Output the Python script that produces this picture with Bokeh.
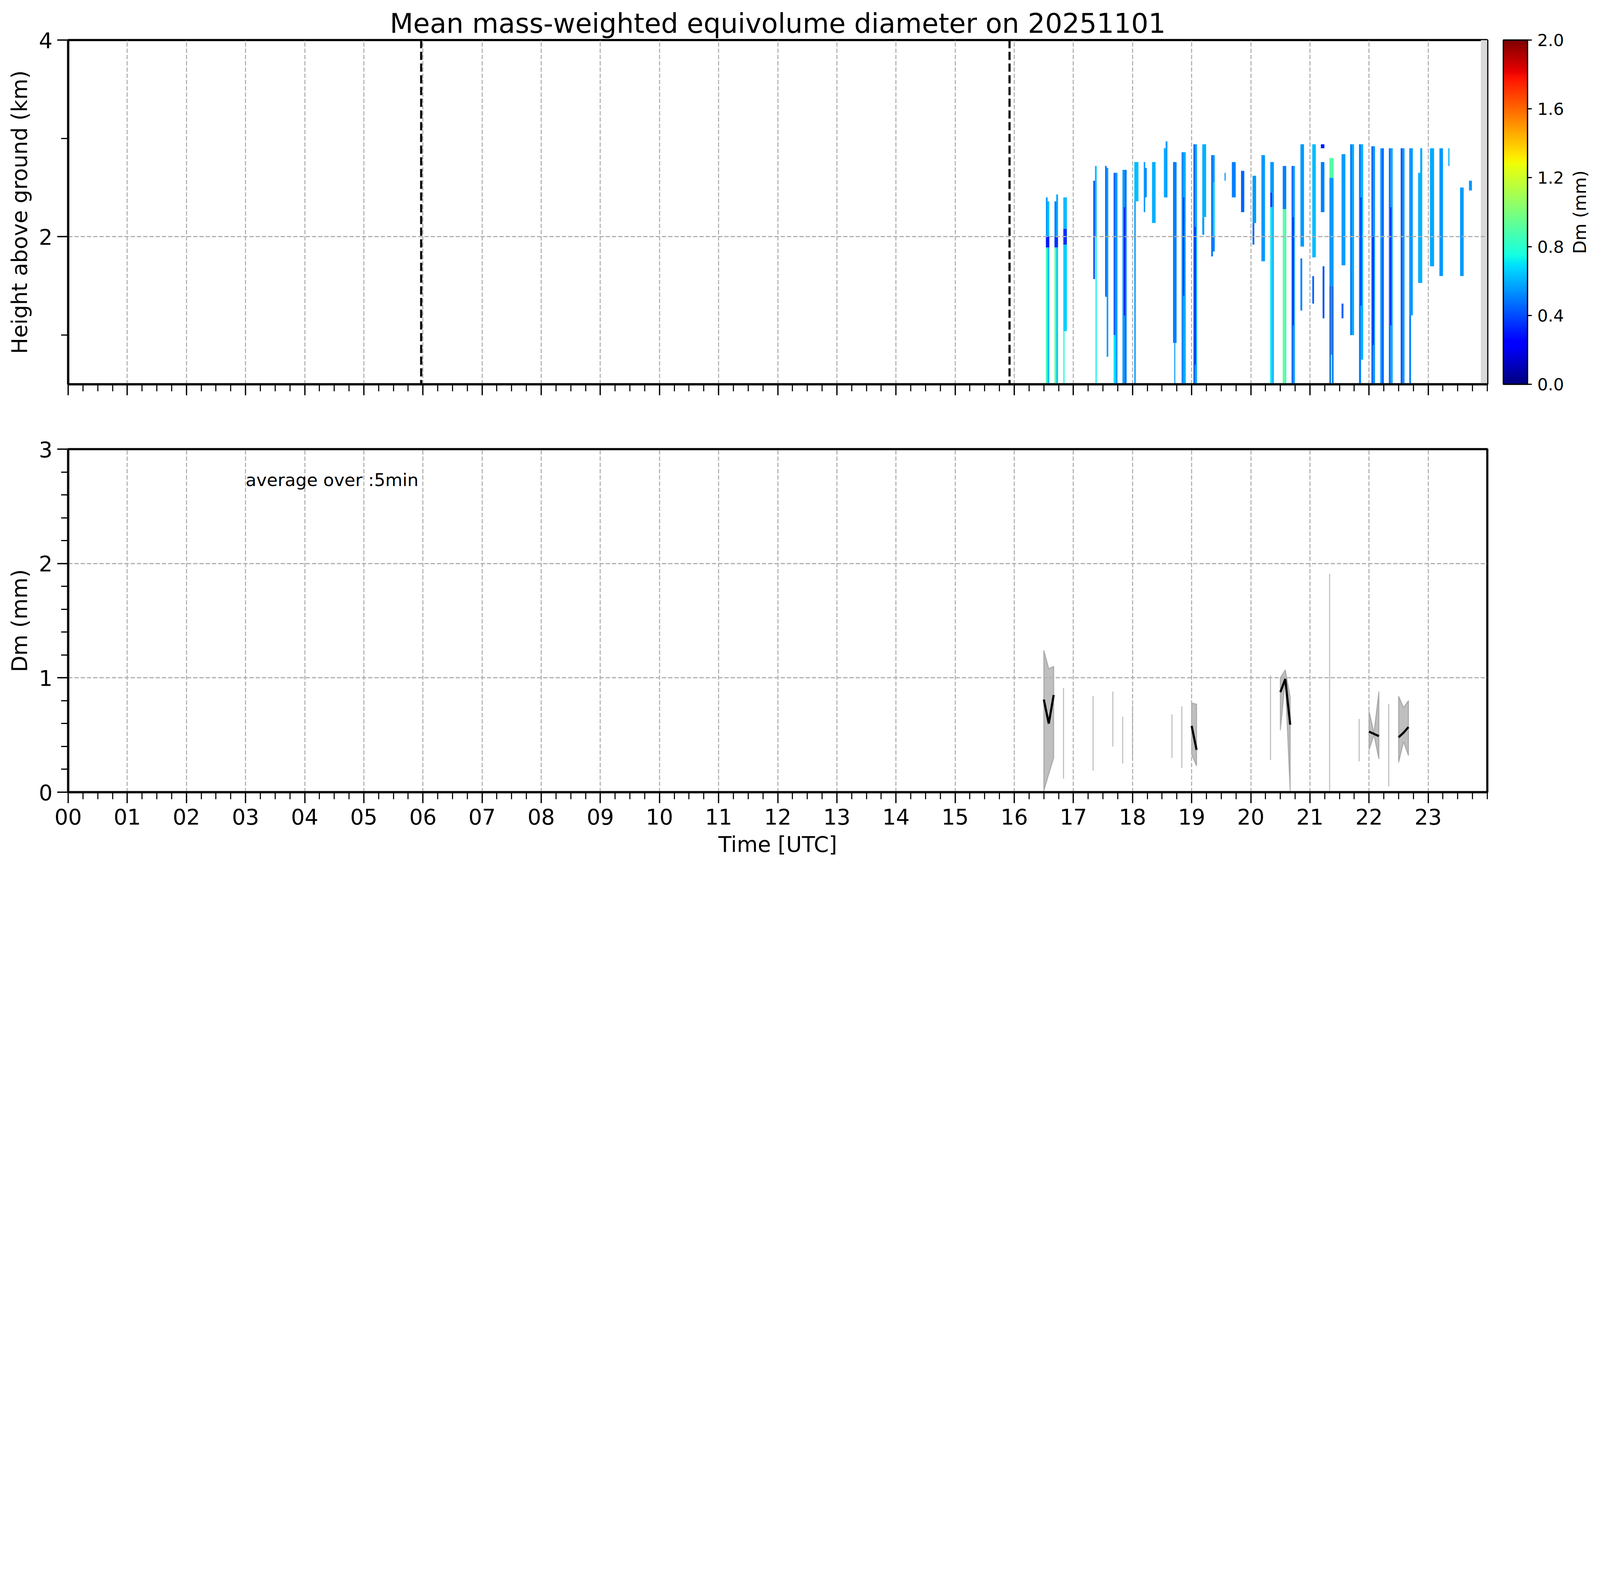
import numpy as np
from bokeh.plotting import figure
from bokeh.models import (Range1d, FixedTicker, LinearColorMapper, ColorBar, Span,
                          Label, ColumnDataSource, PrintfTickFormatter)
from bokeh.layouts import column, row
from bokeh.embed import file_html
from bokeh.resources import INLINE
from bokeh.core.properties import value

FONT = "DejaVu Sans"

# ---------------- data ----------------
title_text = "Mean mass-weighted equivolume diameter on 20251101"
hour_ticks = list(range(24))
hour_labels = ["%02d" % h for h in hour_ticks]
quarter_ticks = [q / 4 for q in range(97)]
cbar_ticks = [0.0, 0.4, 0.8, 1.2, 1.6, 2.0]
cbar_label = "Dm (mm)"

# radar scan stripes (hours UTC)
stripe_start = [16.535, 16.68, 16.83, 17.336, 17.536, 17.68, 17.83, 18.03, 18.19, 18.33,
                18.53, 18.685, 18.83, 19.03, 19.18, 19.33, 19.556, 19.68, 19.835, 20.03,
                20.18, 20.33, 20.54, 20.69, 20.84, 21.04, 21.185, 21.33, 21.535, 21.68,
                21.83, 22.04, 22.19, 22.335, 22.535, 22.68, 22.83, 23.03, 23.19, 23.34,
                23.54, 23.69]
stripe_end = [16.593, 16.74, 16.89, 17.394, 17.59, 17.745, 17.90, 18.10, 18.24, 18.39,
              18.59, 18.745, 18.90, 19.09, 19.245, 19.39, 19.575, 19.745, 19.89, 20.09,
              20.24, 20.39, 20.60, 20.745, 20.90, 21.10, 21.245, 21.40, 21.60, 21.746,
              21.90, 22.10, 22.25, 22.40, 22.60, 22.74, 22.90, 23.10, 23.25, 23.36,
              23.60, 23.74]

# cells inside stripes: stripe index, part of stripe, bottom / top height (km), Dm (mm)
cell_stripe = [0, 0, 0, 0, 0,
               1, 1, 1, 1, 1,
               2, 2, 2, 2,
               3, 3, 3,
               4, 4,
               5, 5, 5,
               6, 6, 6,
               7, 7,
               8, 8,
               9,
               10, 10,
               11, 11,
               12, 12, 12,
               13, 13, 13,
               14, 14,
               15, 15, 15, 15,
               16, 17, 18,
               19, 19,
               20,
               21, 21, 21, 21, 21,
               22, 22, 22,
               23, 23, 23,
               24, 24,
               25, 25,
               26, 26, 26,
               27, 27, 27, 27, 27,
               28, 28,
               29, 29,
               30, 30, 30,
               31, 31, 31,
               32, 32,
               33, 33, 33,
               34, 34,
               35, 35,
               36, 36,
               37, 38, 39, 40, 41]
cell_part = ["L", "R", "F", "L", "R",
             "L", "R", "F", "L", "R",
             "F", "F", "F", "l",
             "L", "R", "r",
             "L", "R",
             "L", "L", "R",
             "L", "R", "C",
             "F", "l",
             "L", "R",
             "F",
             "L", "R",
             "F", "C",
             "L", "R", "C",
             "L", "R", "C",
             "F", "L",
             "L", "R", "R", "R",
             "F", "F", "F",
             "F", "L",
             "F",
             "F", "L", "R", "L", "R",
             "F", "L", "R",
             "L", "R", "C",
             "F", "L",
             "F", "L",
             "F", "F", "R",
             "F", "F", "F", "C", "C",
             "F", "L",
             "L", "R",
             "L", "R", "C",
             "L", "R", "C",
             "L", "R",
             "L", "R", "C",
             "L", "R",
             "F", "L",
             "F", "R",
             "F", "F", "F", "F", "F"]
cell_bottom = [2.00, 2.00, 1.89, 0.51, 0.51,
               2.00, 2.00, 1.89, 0.51, 0.51,
               2.08, 1.92, 1.04, 0.51,
               1.57, 2.00, 0.51,
               1.39, 0.78,
               1.00, 0.51, 0.51,
               0.51, 0.51, 1.20,
               2.36, 0.51,
               2.25, 2.40,
               2.14,
               2.40, 2.40,
               0.92, 0.51,
               0.51, 0.51, 1.40,
               0.51, 0.51, 0.70,
               2.20, 2.02,
               1.80, 2.55, 2.00, 1.85,
               2.57, 2.40, 2.25,
               2.14, 1.92,
               1.75,
               2.45, 2.30, 2.30, 0.51, 0.51,
               2.28, 0.51, 0.51,
               0.51, 0.51, 1.10,
               1.90, 1.25,
               1.79, 1.32,
               2.90, 2.25, 1.17,
               2.60, 1.50, 0.51, 0.80, 0.51,
               1.71, 1.17,
               1.00, 1.00,
               0.51, 0.75, 1.30,
               0.51, 0.51, 0.90,
               0.51, 0.51,
               0.51, 0.51, 1.10,
               0.51, 0.51,
               1.20, 0.51,
               1.53, 2.65,
               1.70, 1.60, 2.72, 1.60, 2.47]
cell_top = [2.40, 2.36, 2.00, 1.89, 1.89,
            2.36, 2.43, 2.00, 1.89, 1.89,
            2.40, 2.08, 1.92, 1.04,
            2.57, 2.72, 2.00,
            2.72, 2.70,
            2.65, 1.00, 2.65,
            2.68, 2.68, 2.30,
            2.76, 2.36,
            2.76, 2.70,
            2.76,
            2.90, 2.97,
            2.76, 0.92,
            2.86, 2.86, 2.40,
            2.94, 2.94, 2.10,
            2.94, 2.20,
            2.83, 2.83, 2.55, 2.00,
            2.65, 2.76, 2.67,
            2.62, 2.14,
            2.83,
            2.76, 2.45, 2.45, 2.30, 2.30,
            2.72, 2.28, 2.28,
            2.72, 2.72, 2.20,
            2.94, 1.78,
            2.94, 1.60,
            2.94, 2.76, 1.70,
            2.80, 2.60, 1.50, 1.50, 0.80,
            2.84, 1.32,
            2.94, 2.94,
            2.94, 2.94, 2.40,
            2.92, 2.92, 2.00,
            2.90, 2.90,
            2.90, 2.90, 2.30,
            2.90, 2.90,
            2.90, 1.20,
            2.65, 2.90,
            2.90, 2.90, 2.90, 2.50, 2.57]
cell_dm = [0.55, 0.62, 0.30, 0.85, 0.62,
           0.50, 0.58, 0.35, 0.95, 0.65,
           0.62, 0.35, 0.66, 0.78,
           0.42, 0.62, 0.72,
           0.48, 0.56,
           0.45, 0.70, 0.55,
           0.55, 0.48, 0.30,
           0.62, 0.55,
           0.55, 0.50,
           0.60,
           0.60, 0.55,
           0.50, 0.55,
           0.52, 0.60, 0.32,
           0.45, 0.58, 0.30,
           0.60, 0.55,
           0.48, 0.55, 0.66, 0.50,
           0.55, 0.50, 0.45,
           0.55, 0.45,
           0.55,
           0.55, 0.35, 0.55, 0.70, 0.62,
           0.50, 0.95, 0.85,
           0.45, 0.56, 0.30,
           0.55, 0.50,
           0.62, 0.45,
           0.30, 0.50, 0.40,
           0.90, 0.55, 0.48, 1.65, 1.20,
           0.56, 0.45,
           0.50, 0.58,
           0.50, 0.60, 0.35,
           0.45, 0.55, 0.30,
           0.55, 0.45,
           0.48, 0.58, 0.32,
           0.42, 0.55,
           0.55, 0.50,
           0.60, 0.58,
           0.58, 0.55, 0.60, 0.55, 0.55]

nodata_start = 23.89
event_times = [5.97, 15.92]

# 5-min averages of surface Dm
avg_time = [16.5, 16.5833, 16.6667, 16.8333, 17.3333, 17.6667, 17.8333, 18.0, 18.6667,
            18.8333, 19.0, 19.0833, 20.3333, 20.5, 20.5833, 20.6667, 21.3333, 21.8333,
            22.0, 22.0833, 22.1667, 22.3333, 22.5, 22.5833, 22.6667]
avg_mean = [0.81, 0.60, 0.85, 0.52, 0.51, 0.64, 0.45, 0.52, 0.49,
            0.48, 0.58, 0.37, 0.65, 0.875, 0.99, 0.59, 0.96, 0.45,
            0.53, 0.51, 0.49, 0.41, 0.48, 0.52, 0.57]
avg_low = [0.01, 0.16, 0.30, 0.12, 0.19, 0.40, 0.25, 0.28, 0.30,
           0.21, 0.33, 0.23, 0.28, 0.54, 0.98, 0.00, 0.01, 0.27,
           0.37, 0.50, 0.29, 0.05, 0.26, 0.44, 0.32]
avg_high = [1.24, 1.08, 1.10, 0.91, 0.84, 0.88, 0.66, 0.76, 0.68,
            0.75, 0.78, 0.77, 1.02, 1.00, 1.07, 0.83, 1.91, 0.64,
            0.71, 0.52, 0.88, 0.77, 0.84, 0.74, 0.80]
avg_text = "average over :5min"

# ---------------- sizes (css px; the browser shows 7442 device px in 4096 css px) ----------------
S = 7442 / 4096.0
def c(v):
    return v / S

def fs(v):
    return "%.1fpx" % c(v)

# ---------------- colormap (matplotlib jet) ----------------
def jet_palette(n=256):
    t = np.linspace(0, 1, n)
    r = np.interp(t, [0, 0.35, 0.66, 0.89, 1], [0, 0, 1, 1, 0.5])
    g = np.interp(t, [0, 0.125, 0.375, 0.64, 0.91, 1], [0, 0, 1, 1, 0, 0])
    b = np.interp(t, [0, 0.11, 0.34, 0.65, 1], [0.5, 1, 1, 0, 0])
    return ["#%02x%02x%02x" % (int(round(a * 255)), int(round(cc * 255)), int(round(d * 255)))
            for a, cc, d in zip(r, g, b)]

mapper = LinearColorMapper(palette=jet_palette(), low=0.0, high=2.0)

GRID_COLOR = "#b0b0b0"
GRID_DASH = "%d %d" % (round(c(20)), round(c(9)))

def style_axes(p):
    for ax in (p.xaxis[0], p.yaxis[0]):
        ax.axis_line_width = c(10)
        ax.axis_line_color = "black"
        ax.major_tick_line_width = c(6)
        ax.minor_tick_line_width = c(5)
        ax.major_tick_out = round(c(50))
        ax.major_tick_in = 0
        ax.minor_tick_out = round(c(33))
        ax.minor_tick_in = 0
        ax.major_label_text_font = FONT
        ax.major_label_text_font_size = fs(100)
        ax.major_label_text_color = "black"
        ax.axis_label_text_font = FONT
        ax.axis_label_text_font_size = fs(100)
        ax.axis_label_text_font_style = "normal"
        ax.axis_label_text_color = "black"
    p.yaxis.major_label_standoff = 12
    p.yaxis.axis_label_standoff = 15
    p.xaxis.major_label_standoff = 14
    p.xaxis.axis_label_standoff = 16
    for g in (p.xgrid[0], p.ygrid[0]):
        g.grid_line_color = GRID_COLOR
        g.grid_line_width = c(5)
        g.grid_line_dash = GRID_DASH
    p.outline_line_color = "black"
    p.outline_line_width = c(10)
    p.outline_line_alpha = 1.0

FRAME_W = round(c(6601))
LEFT = round(c(316))
P_WIDTH = 4012
RIGHT = P_WIDTH - LEFT - FRAME_W
TOP1 = round(c(185))
FRAME_H1 = round(c(1600))
BOT1 = 66
P1_H = TOP1 + FRAME_H1 + BOT1

# ---------------- top panel ----------------
p1 = figure(frame_width=FRAME_W, frame_height=FRAME_H1, x_range=Range1d(0, 24),
            y_range=Range1d(0.5, 4), output_backend="svg", toolbar_location=None,
            title=title_text, min_border_left=LEFT, min_border_top=TOP1,
            min_border_bottom=BOT1, min_border_right=RIGHT)
p1.title.text_font = FONT
p1.title.text_font_size = fs(126)
p1.title.text_font_style = "normal"
p1.title.text_color = "black"
p1.title.align = "center"
p1.title.standoff = 6

frac = {"F": (0.0, 1.0), "L": (0.0, 0.5), "R": (0.5, 1.0), "l": (0.0, 0.34),
        "C": (0.36, 0.64), "r": (0.66, 1.0)}
ql, qr, qb, qt, qv = [], [], [], [], []
for s, part, z0, z1, dm in zip(cell_stripe, cell_part, cell_bottom, cell_top, cell_dm):
    t0, t1 = stripe_start[s], stripe_end[s]
    a, b = frac[part]
    ql.append(t0 + a * (t1 - t0))
    qr.append(t0 + b * (t1 - t0))
    qb.append(z0)
    qt.append(z1)
    qv.append(dm)
src = ColumnDataSource(dict(left=ql, right=qr, bottom=qb, top=qt, dm=qv))
p1.quad(left="left", right="right", bottom="bottom", top="top", source=src,
        fill_color={"field": "dm", "transform": mapper}, line_color=None, level="image")
p1.quad(left=[nodata_start], right=[24], bottom=[0.5], top=[4], fill_color="#d9d9d9",
        line_color=None, level="image")

p1.xaxis.ticker = FixedTicker(ticks=hour_ticks, minor_ticks=quarter_ticks)
p1.xaxis.major_label_overrides = {h: "" for h in hour_ticks}
p1.yaxis.ticker = FixedTicker(ticks=[2, 4], minor_ticks=[1, 3])
p1.yaxis.axis_label = "Height above ground (km)"
style_axes(p1)

for t in event_times:
    p1.add_layout(Span(location=t, dimension="height", line_color="black",
                       line_width=c(10), line_dash="%d %d" % (round(c(38)), round(c(17)))))

cb = ColorBar(color_mapper=mapper, width=round(c(112)), height=FRAME_H1,
              location=(round(c(75)), 0),
              ticker=FixedTicker(ticks=cbar_ticks),
              formatter=PrintfTickFormatter(format="%.1f"),
              major_label_text_font=FONT, major_label_text_font_size=fs(78),
              major_label_text_color="black",
              major_tick_out=round(c(20)), major_tick_in=0, major_tick_line_color="black",
              major_tick_line_width=c(5), minor_tick_line_color=None,
              bar_line_color="black", bar_line_width=c(6), label_standoff=round(c(25)),
              padding=0, margin=0, background_fill_alpha=0)
p1.add_layout(cb, "right")

# ---------------- colour bar label (reads bottom to top) ----------------
LBL_W = 4080 - P_WIDTH
lbl = figure(width=LBL_W, height=P1_H, x_range=Range1d(0, LBL_W), y_range=Range1d(0, P1_H),
             output_backend="svg", toolbar_location=None, min_border=0,
             x_axis_location=None, y_axis_location=None)
lbl.grid.visible = False
lbl.outline_line_color = None
lbl.text(x=[c(7349) - P_WIDTH], y=[P1_H - (TOP1 + FRAME_H1 / 2)], text=[cbar_label],
         angle=np.pi / 2, text_align="center", text_baseline="middle",
         text_font=value(FONT), text_font_size=value(fs(81)), text_color="black")

# ---------------- bottom panel ----------------
p2 = figure(frame_width=FRAME_W, frame_height=round(c(1596)), x_range=p1.x_range,
            y_range=Range1d(0, 3), output_backend="svg", toolbar_location=None,
            min_border_left=LEFT, min_border_top=round(c(2087)) - P1_H,
            min_border_bottom=165, min_border_right=RIGHT)

groups, cur = [], [0]
for i in range(1, len(avg_time)):
    if avg_time[i] - avg_time[i - 1] < 0.1:
        cur.append(i)
    else:
        groups.append(cur)
        cur = [i]
groups.append(cur)

pxs, pys, mx, my = [], [], [], []
for g in groups:
    tx = [avg_time[i] for i in g]
    pxs.append(tx + tx[::-1])
    pys.append([avg_high[i] for i in g] + [avg_low[i] for i in g][::-1])
    mx += tx + [float("nan")]
    my += [avg_mean[i] for i in g] + [float("nan")]
p2.patches(pxs, pys, fill_color="gray", fill_alpha=0.5, line_color="gray", line_alpha=0.5,
           line_width=c(5), level="image")
p2.line(mx, my, line_color="black", line_width=c(10))

p2.xaxis.ticker = FixedTicker(ticks=hour_ticks, minor_ticks=quarter_ticks)
p2.xaxis.major_label_overrides = dict(zip(hour_ticks, hour_labels))
p2.xaxis.axis_label = "Time [UTC]"
p2.yaxis.ticker = FixedTicker(ticks=[0, 1, 2, 3], minor_ticks=[k / 5 for k in range(16)])
p2.yaxis.axis_label = "Dm (mm)"
style_axes(p2)
p2.add_layout(Label(x=3.0, y=2.73, text=avg_text, text_font=FONT, text_font_size=fs(82),
                    text_align="left", text_baseline="alphabetic", text_color="black"))

layout = row(column(p1, p2, spacing=0), lbl, spacing=0)
open("out.html", "w").write(file_html(layout, INLINE))
